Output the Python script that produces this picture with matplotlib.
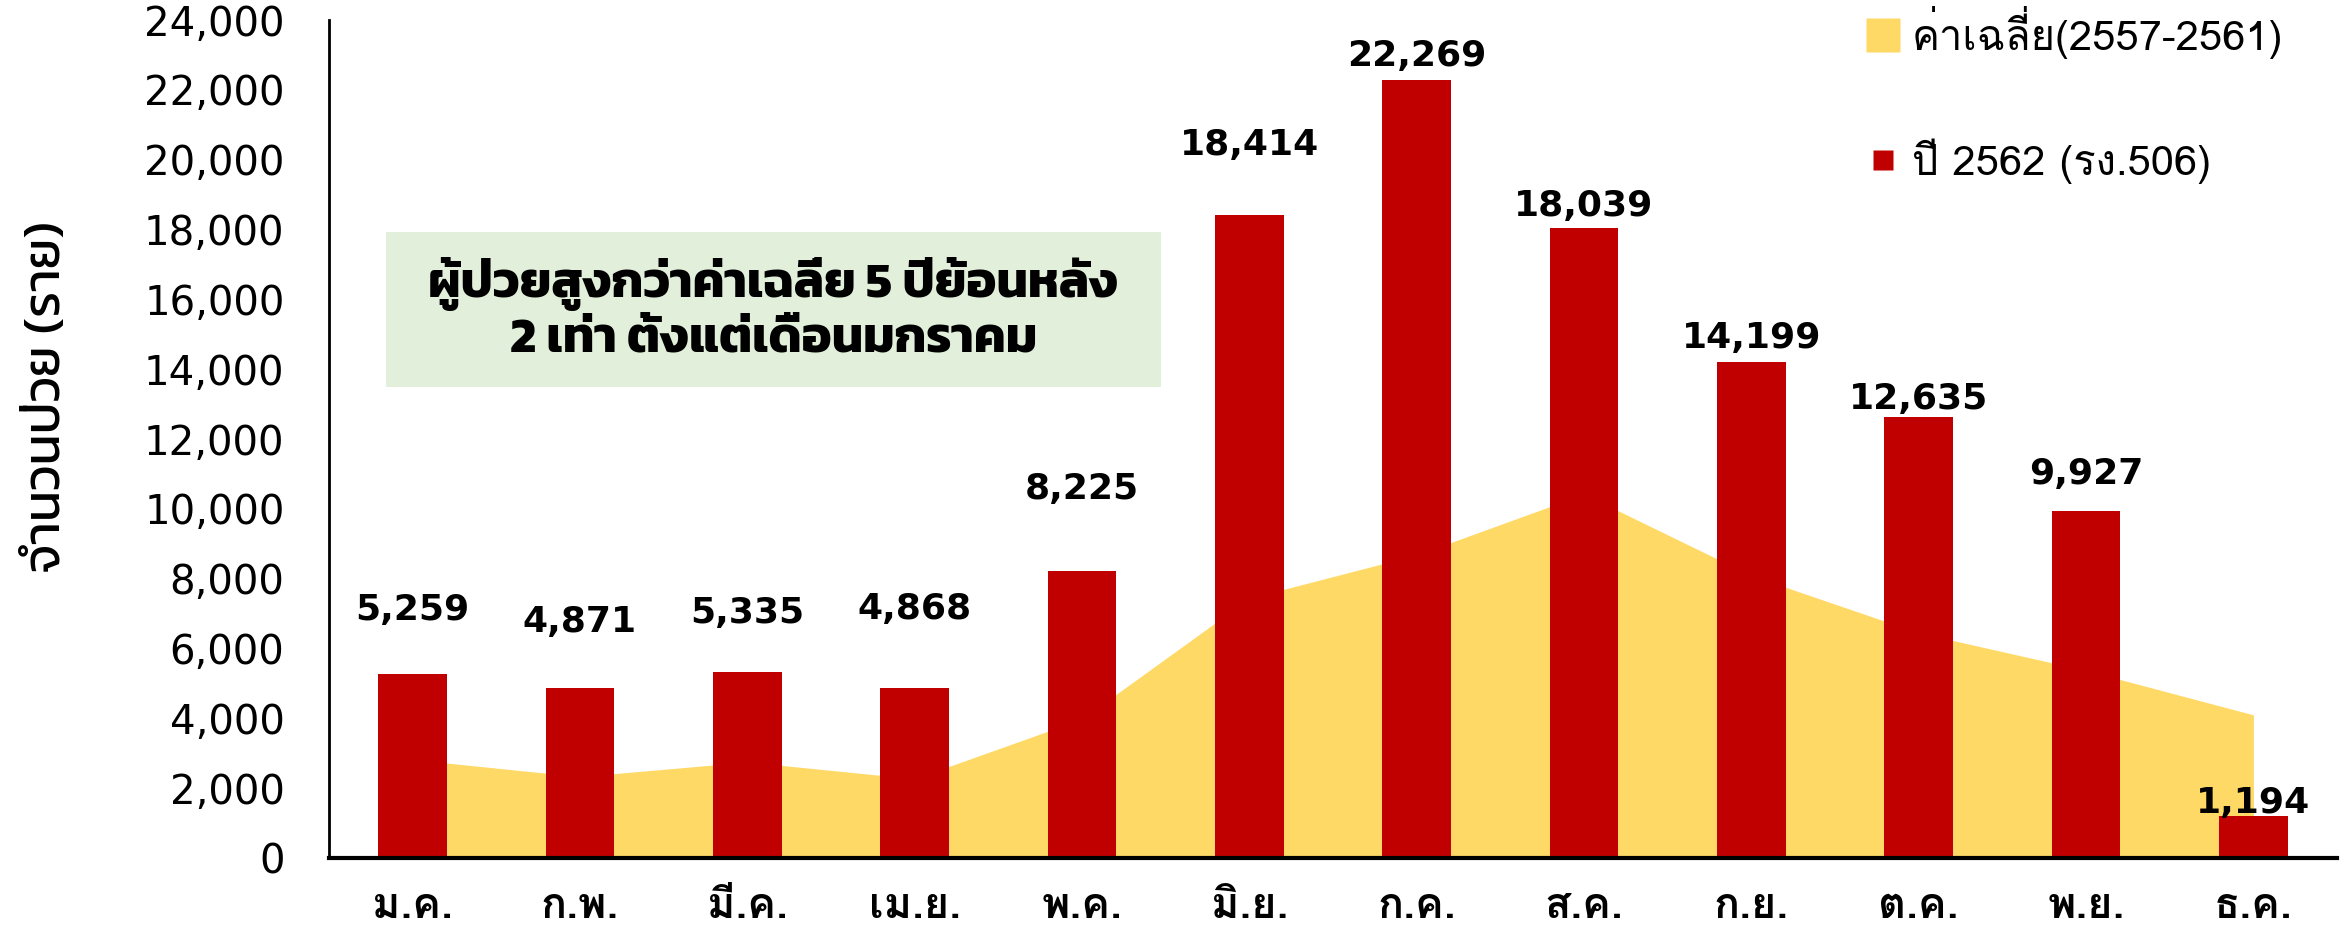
import matplotlib
matplotlib.use('Agg')
import matplotlib.pyplot as plt
from matplotlib.lines import Line2D
from matplotlib.patches import Rectangle
from matplotlib.ticker import FuncFormatter
import numpy as np

# ข้อมูลรายเดือน
months = ['ม.ค.', 'ก.พ.', 'มี.ค.', 'เม.ย.', 'พ.ค.', 'มิ.ย.',
          'ก.ค.', 'ส.ค.', 'ก.ย.', 'ต.ค.', 'พ.ย.', 'ธ.ค.']
cases_2562 = [5259, 4871, 5335, 4868, 8225, 18414,
              22269, 18039, 14199, 12635, 9927, 1194]
avg_2557_2561 = [2820, 2330, 2750, 2270, 3980, 7440,
                 8680, 10420, 8090, 6450, 5370, 4100]

# ระยะห่างป้ายตัวเลขเหนือแท่ง (px)
label_gap = [64, 66, 59, 79, 82, 70, 24, 22, 24, 18, 37, 13]

bar_color = '#C00000'
area_color = '#FFD966'

fig = plt.figure(figsize=(23.46, 9.32), dpi=100)
ax = fig.add_axes([0.1402, 0.0794, 0.856, 0.8991])

x = np.arange(len(months))
ax.fill_between(x, avg_2557_2561, 0, color=area_color, linewidth=0, zorder=1)
bars = ax.bar(x, cases_2562, width=0.41, color=bar_color, zorder=2)

for rect, v, gap in zip(bars, cases_2562, label_gap):
    ax.annotate(f'{v:,}', xy=(rect.get_x() + rect.get_width() / 2, v),
                xytext=(0, gap * 0.72), textcoords='offset points',
                ha='center', va='center', fontsize=26, fontweight='bold',
                family='DejaVu Sans')

ax.set_xlim(-0.5, 11.5)
ax.set_ylim(0, 24000)
ax.set_yticks(np.arange(0, 24001, 2000))
ax.yaxis.set_major_formatter(FuncFormatter(lambda v, p: f'{int(v):,}'))
ax.tick_params(axis='y', length=0, pad=32, labelsize=29)
ax.set_xticks(x)
ax.set_xticklabels(months, family='Loma', fontweight='bold', fontsize=31)
ax.tick_params(axis='x', length=0, pad=21)

for s in ['top', 'right']:
    ax.spines[s].set_visible(False)
ax.spines['left'].set_linewidth(2)
ax.spines['bottom'].set_linewidth(3)

ax.set_ylabel('จำนวนป่วย (ราย)', family='Kanit', fontweight='normal',
              fontsize=37, color='black', va='center')
ax.yaxis.set_label_coords(-0.1395, 0.55)

# กล่องข้อความ
ax.add_patch(Rectangle((0.0284, 0.562), 0.386, 0.185, transform=ax.transAxes,
                       facecolor='#E2EFDA', edgecolor='none', zorder=3))
ax.text(0.2214, 0.6545, 'ผู้ป่วยสูงกว่าค่าเฉลี่ย 5 ปีย้อนหลัง\n2 เท่า ตั้งแต่เดือนมกราคม',
        transform=ax.transAxes, ha='center', va='center', fontsize=36,
        family='Kanit', fontweight='bold', linespacing=1.2, zorder=4)

handles = [Line2D([], [], marker='s', linestyle='none', markersize=24,
                  markerfacecolor=area_color, markeredgecolor='none'),
           Line2D([], [], marker='s', linestyle='none', markersize=15,
                  markerfacecolor=bar_color, markeredgecolor='none')]
fig.legend(handles, ['ค่าเฉลี่ย(2557-2561)', 'ปี 2562 (รง.506)'],
           loc='upper left', bbox_to_anchor=(1845 / 2346, 1 + 15 / 932),
           frameon=False, prop={'family': 'Loma', 'size': 30},
           handlelength=0.8, handletextpad=0.3, labelspacing=1.9, borderpad=0)

fig.savefig('out.png', dpi=100)
